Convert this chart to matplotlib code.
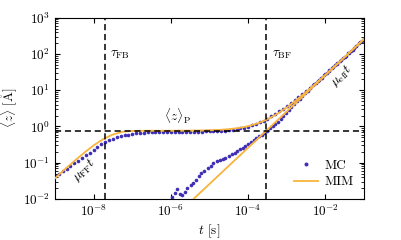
import numpy as np
import matplotlib
matplotlib.use("Agg")
import matplotlib.pyplot as plt

plt.rcParams['font.family'] = ['cmr10', 'DejaVu Serif']
plt.rcParams['mathtext.fontset'] = 'cm'
plt.rcParams['axes.formatter.use_mathtext'] = True
plt.rcParams['font.size'] = 9.5

# MC, branch starting at the surface (log10 t from -9 to -1, step 0.1)
mc_logt = [-9.0, -8.9, -8.8, -8.7, -8.6, -8.5, -8.4, -8.3, -8.2, -8.1,
           -8.0, -7.9, -7.8, -7.7, -7.6, -7.5, -7.4, -7.3, -7.2, -7.1,
           -7.0, -6.9, -6.8, -6.7, -6.6, -6.5, -6.4, -6.3, -6.2, -6.1,
           -6.0, -5.9, -5.8, -5.7, -5.6, -5.5, -5.4, -5.3, -5.2, -5.1,
           -5.0, -4.9, -4.8, -4.7, -4.6, -4.5, -4.4, -4.3, -4.2, -4.1,
           -4.0, -3.9, -3.8, -3.7, -3.6, -3.5, -3.4, -3.3, -3.2, -3.1,
           -3.0, -2.9, -2.8, -2.7, -2.6, -2.5, -2.4, -2.3, -2.2, -2.1,
           -2.0, -1.9, -1.8, -1.7, -1.6, -1.5, -1.4, -1.3, -1.2, -1.1,
           -1.0]
mc_z = [0.044, 0.050, 0.058, 0.068, 0.082, 0.098, 0.115, 0.135, 0.160, 0.190,
        0.230, 0.270, 0.320, 0.370, 0.420, 0.460, 0.500, 0.540, 0.570, 0.600,
        0.630, 0.650, 0.670, 0.680, 0.690, 0.695, 0.700, 0.700, 0.710, 0.700,
        0.700, 0.710, 0.700, 0.710, 0.710, 0.710, 0.710, 0.720, 0.720, 0.730,
        0.730, 0.740, 0.750, 0.760, 0.770, 0.790, 0.810, 0.840, 0.880, 0.930,
        0.990, 1.07, 1.17, 1.29, 1.45, 1.66, 1.92, 2.24, 2.62, 3.08,
        3.66, 4.38, 5.28, 6.40, 7.80, 9.60, 11.8, 14.6, 18.1, 22.4,
        27.8, 34.6, 43.2, 54.0, 67.5, 84.5, 106, 132, 166, 208,
        261]

# MC, second branch (starts near the bottom of the plot)
mc2_logt = [-5.97, -5.90, -5.83, -5.76, -5.71, -5.64, -5.57, -5.48, -5.42, -5.35,
            -5.28, -5.21, -5.14, -5.05, -4.97, -4.90, -4.81, -4.74, -4.66, -4.60,
            -4.49, -4.42, -4.35, -4.28, -4.21, -4.14, -4.07, -4.00, -3.93, -3.86,
            -3.79, -3.72, -3.65, -3.58, -3.51, -3.44, -3.37, -3.30, -3.23, -3.16,
            -3.09, -3.02, -2.95, -2.88, -2.81, -2.74, -2.67, -2.60, -2.53, -2.46,
            -2.39, -2.32, -2.25, -2.18, -2.11, -2.04, -1.97, -1.90, -1.83, -1.76,
            -1.69, -1.62, -1.55, -1.48, -1.41, -1.34, -1.27, -1.20, -1.13, -1.06,
            -1.00]
mc2_z = [0.0116, 0.0144, 0.0185, 0.0137, 0.0132, 0.016, 0.0197, 0.0244, 0.027, 0.0335,
         0.044, 0.051, 0.060, 0.072, 0.082, 0.101, 0.112, 0.120, 0.125, 0.138,
         0.157, 0.17, 0.19, 0.21, 0.235, 0.26, 0.29, 0.33, 0.37, 0.42,
         0.47, 0.53, 0.60, 0.68, 0.77, 0.88, 1.01, 1.17, 1.37, 1.62,
         1.95, 2.35, 2.85, 3.45, 4.15, 4.95, 5.90, 7.00, 8.30, 9.8,
         11.6, 13.6, 16.0, 18.8, 22.0, 25.8, 30.2, 35.3, 41.2, 48.2,
         56.3, 65.8, 76.9, 89.8, 105, 123, 143, 167, 195, 228,
         261]

# MIM curve
mim_logt = [-9, -8.75, -8.5, -8.25, -8, -7.75, -7.5, -7.25, -7, -6.75,
            -6.5, -6, -5.5, -5, -4.75, -4.5, -4.25, -4, -3.75, -3.5,
            -3.25, -3, -2.75, -2.5, -2.25, -2, -1.5, -1]
mim_z = [0.037, 0.065, 0.111, 0.186, 0.30, 0.45, 0.60, 0.714, 0.755, 0.760,
         0.761, 0.763, 0.768, 0.786, 0.806, 0.842, 0.906, 1.02, 1.22, 1.58,
         2.22, 3.36, 5.38, 8.98, 15.4, 26.8, 83.0, 261]

# MIM long-time asymptote mu_eff * t
mim_lin_logt = [-6.0, -1.0]
mim_lin_z = [0.0026, 260]

tau_FB = 1.97e-8
tau_BF = 2.92e-4
z_P = 0.76

blue = '#3f2fb4'
orange = '#f8b43c'


def tvals(logt):
    return 10.0 ** np.asarray(logt, dtype=float)


fig = plt.figure(figsize=(4.01, 2.40), dpi=100)
ax = fig.add_axes([0.137, 0.171, 0.771, 0.755])

ax.plot(tvals(mc_logt), mc_z, 'o', ms=2.6, color=blue, mec='none', label='MC', zorder=2)
ax.plot(tvals(mc2_logt), mc2_z, 'o', ms=2.6, color=blue, mec='none', zorder=2)
ax.plot(tvals(mim_logt), mim_z, '-', lw=1.3, color=orange, label='MIM', zorder=3)
ax.plot(tvals(mim_lin_logt), mim_lin_z, '-', lw=1.3, color=orange, zorder=3)

ax.axvline(tau_FB, color='k', ls=(0, (4, 2.5)), lw=1.1, zorder=4)
ax.axvline(tau_BF, color='k', ls=(0, (4, 2.5)), lw=1.1, zorder=4)
ax.axhline(z_P, color='k', ls=(0, (4, 2.5)), lw=1.1, zorder=4)

ax.set_xscale('log')
ax.set_yscale('log')
ax.set_xlim(1e-9, 1e-1)
ax.set_ylim(1e-2, 1e3)
ax.set_xticks([1e-8, 1e-6, 1e-4, 1e-2])
ax.tick_params(which='both', direction='in', top=True, right=True)
ax.tick_params(which='major', length=3.5)
ax.tick_params(which='minor', length=2)

ax.set_xlabel(r'$t$ [s]', labelpad=2)
ax.set_ylabel(r'$\langle z\rangle\ [\mathring{\mathrm{A}}]$', labelpad=2)

ax.text(2.7e-8, 95, r'$\tau_{\rm FB}$', ha='left', va='center')
ax.text(4.2e-4, 95, r'$\tau_{\rm BF}$', ha='left', va='center')
ax.text(1.5e-6, 1.95, r'$\langle z\rangle_{\rm P}$', ha='center', va='center')
ax.text(5.6e-9, 0.063, r'$\mu_{\rm FF}t$', ha='center', va='center', rotation=44)
ax.text(2.6e-2, 26, r'$\mu_{\rm eff}t$', ha='center', va='center', rotation=44)

ax.legend(loc='lower right', frameon=False, handlelength=1.8, handletextpad=0.5,
          borderaxespad=0.4, labelspacing=0.35, markerscale=1.1)

fig.savefig('out.png', dpi=100)
